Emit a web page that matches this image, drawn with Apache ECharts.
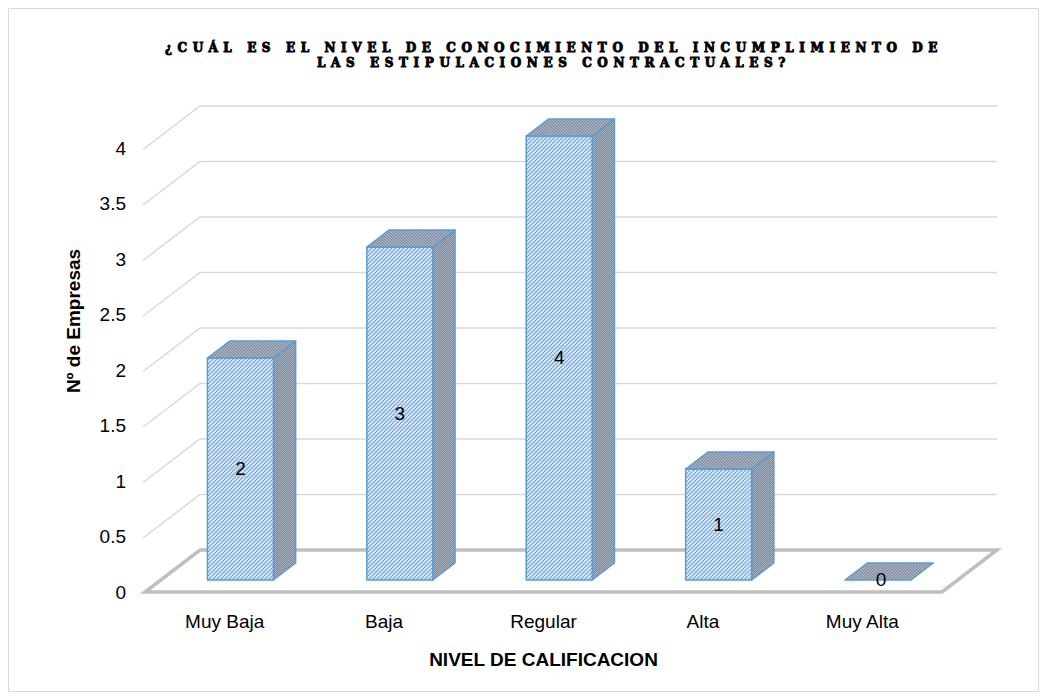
<!DOCTYPE html>
<html><head><meta charset="utf-8">
<script src="https://cdn.jsdelivr.net/npm/echarts@6/dist/echarts.min.js"></script>
<style>
html,body{margin:0;padding:0;background:#fff}
#c{width:1047px;height:700px}
#c text[style*="DejaVu Serif"]{letter-spacing:5.6px}
</style>
</head><body><div id="c"></div>
<script>
// ---- data ----
const categories = ['Muy Baja', 'Baja', 'Regular', 'Alta', 'Muy Alta'];
const values = [2, 3, 4, 1, 0];
const yTicks = [0.5, 1, 1.5, 2, 2.5, 3, 3.5, 4];
const titleLines = ['¿CUÁL ES EL NIVEL DE CONOCIMIENTO DEL INCUMPLIMIENTO DE', 'LAS ESTIPULACIONES CONTRACTUALES?'];
const yName = 'Nº de Empresas';
const xName = 'NIVEL DE CALIFICACION';

// ---- style / layout ----
const DX = 55, DY = -42;        // depth of the 3D floor
const D0 = 0.286, D1 = 0.69;    // bar front/back depth fraction
const BARW = 0.414;             // bar width fraction of band
const FONT = "'Liberation Sans', Arial, sans-serif";
const BLUE = '#5b9bd5';

function makePattern(bg, fg, lw, step, dir) {
  const s = step * 2;
  const c = document.createElement('canvas');
  c.width = s; c.height = s;
  const g = c.getContext('2d');
  g.fillStyle = bg; g.fillRect(0, 0, s, s);
  g.strokeStyle = fg; g.lineWidth = lw;
  for (let k = -2; k <= 2; k++) {
    g.beginPath();
    if (dir > 0) { g.moveTo(k * step, s); g.lineTo(k * step + s, 0); }
    else { g.moveTo(k * step, 0); g.lineTo(k * step + s, s); }
    g.stroke();
  }
  return { image: c, repeat: 'repeat', imageWidth: s, imageHeight: s };
}
const frontPat = makePattern('#e3eefa', '#7aaadf', 1.3, 4, 1);
const sidePat = makePattern('#7f8b9b', '#a3aebd', 1, 2, -1);
const topPat = makePattern('#8a96a7', '#b0bac7', 1, 3, -1);

const chart = echarts.init(document.getElementById('c'), null, { renderer: 'svg' });

const option = {
  animation: false,
  backgroundColor: '#fff',
  title: {
    text: titleLines.join('\n'),
    left: 549, top: 35, textAlign: 'center',
    textStyle: { fontFamily: 'DejaVu Serif', fontWeight: 'bold', fontSize: 12, lineHeight: 15, color: '#000',
      textBorderColor: '#000', textBorderWidth: 0.9 }
  },
  graphic: [
    { type: 'rect', shape: { x: 8.5, y: 8.5, width: 1030, height: 683 }, style: { fill: 'none', stroke: '#d9d9d9', lineWidth: 1 }, silent: true, z: -10 },
    { type: 'text', x: 73, y: 321, rotation: Math.PI / 2,
      style: { text: yName, fontFamily: FONT, fontWeight: 'bold', fontSize: 19, fill: '#000', textAlign: 'center', textVerticalAlign: 'middle' } }
  ],
  grid: { left: 145, right: 105, top: 148, bottom: 108, outerBoundsMode: 'none' },
  xAxis: {
    type: 'category', data: categories,
    axisLine: { show: false }, axisTick: { show: false }, splitLine: { show: false },
    axisLabel: { fontFamily: FONT, fontSize: 19, color: '#000', margin: 20 },
    name: xName, nameLocation: 'middle', nameGap: 58,
    nameTextStyle: { fontFamily: FONT, fontWeight: 'bold', fontSize: 19, color: '#000' }
  },
  yAxis: {
    type: 'value', min: 0, max: 4, interval: 0.5,
    axisLine: { show: false }, axisTick: { show: false }, splitLine: { show: false },
    axisLabel: { fontFamily: FONT, fontSize: 19, color: '#000', margin: 19 }
  },
  series: [
    { // back wall and side wall gridlines
      type: 'custom', z: 1, clip: false, silent: true,
      data: yTicks.map(v => [0, v]),
      renderItem(params, api) {
        const cs = params.coordSys;
        const y = api.coord([0, api.value(1)])[1];
        const xL = cs.x, xR = cs.x + cs.width;
        return { type: 'polyline', shape: { points: [[xL - 2, y + 1.5], [xL + DX, y + DY], [xR + DX, y + DY]] },
          style: { stroke: '#d9d9d9', lineWidth: 1.5, fill: null } };
      }
    },
    { // floor
      type: 'custom', z: 2, clip: false, silent: true,
      data: [[0, 0]],
      renderItem(params, api) {
        const cs = params.coordSys;
        const y = api.coord([0, 0])[1];
        const xL = cs.x, xR = cs.x + cs.width;
        return { type: 'polygon', shape: { points: [[xL, y], [xR, y], [xR + DX, y + DY], [xL + DX, y + DY]] },
          style: { fill: '#fff', stroke: '#bfbfbf', lineWidth: 3.5 } };
      }
    },
    { // 3D bars
      type: 'custom', z: 3, clip: false,
      data: values.map((v, i) => [i, v]),
      renderItem(params, api) {
        const idx = api.value(0), v = api.value(1);
        const band = api.size([1, 0])[0];
        const w = band * BARW;
        const base = api.coord([idx, 0]);
        const top = api.coord([idx, v]);
        const ox0 = DX * D0, oy0 = DY * D0;
        const dx = DX * (D1 - D0), dy = DY * (D1 - D0);
        const xl = base[0] - w / 2 + ox0, xr = base[0] + w / 2 + ox0;
        const yb = base[1] + oy0, yt = top[1] + oy0;
        const border = { stroke: BLUE, lineWidth: 1.5, lineJoin: 'round' };
        const children = [];
        if (v > 0) {
          children.push({ type: 'polygon', shape: { points: [[xr, yb], [xr + dx, yb + dy], [xr + dx, yt + dy], [xr, yt]] },
            style: Object.assign({ fill: sidePat }, border) });
          children.push({ type: 'polygon', shape: { points: [[xl, yb], [xr, yb], [xr, yt], [xl, yt]] },
            style: Object.assign({ fill: frontPat }, border) });
        }
        children.push({ type: 'polygon', shape: { points: [[xl, yt], [xr, yt], [xr + dx, yt + dy], [xl + dx, yt + dy]] },
          style: Object.assign({ fill: topPat }, border) });
        children.push({ type: 'text', x: (xl + xr) / 2 + (v > 0 ? 0 : 3), y: v > 0 ? (yb + yt) / 2 : yb,
          style: { text: String(v), fontFamily: FONT, fontSize: 19, fill: '#000', textAlign: 'center', textVerticalAlign: 'middle' } });
        return { type: 'group', children };
      }
    }
  ]
};
chart.setOption(option);
function spaceTitle() {
  document.querySelectorAll('#c text').forEach(t => {
    const s = t.textContent || '';
    if (titleLines.indexOf(s) >= 0) t.setAttribute('letter-spacing', '5.6');
  });
}
spaceTitle();
chart.on('finished', spaceTitle);
</script>
</body></html>
